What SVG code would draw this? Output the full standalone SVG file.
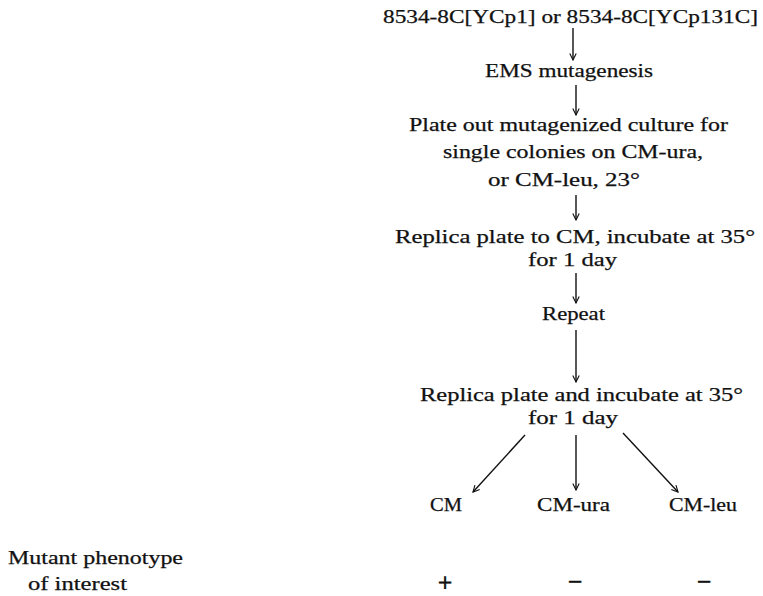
<svg xmlns="http://www.w3.org/2000/svg" width="763" height="596" viewBox="0 0 763 596">
<style>
text{font-family:"Liberation Serif","Times New Roman",serif;fill:#111;font-size:19px;stroke:#111;stroke-width:0.25}
.s{font-size:25px;stroke-width:0.8}
.con line{stroke:#111;stroke-width:1.4;fill:none}
</style>
<defs>
<marker id="ah" viewBox="0 0 10 10" refX="9" refY="5" markerWidth="8" markerHeight="8" markerUnits="userSpaceOnUse" orient="auto">
<path d="M1,1 L9,5 L1,9" fill="none" stroke="#111" stroke-width="1.4"/>
</marker>
</defs>
<rect width="763" height="596" fill="#fff"/>
<g id="n-start"><text x="383" y="23" textLength="375" lengthAdjust="spacingAndGlyphs">8534-8C[YCp1] or 8534-8C[YCp131C]</text></g>
<g id="n-ems"><text x="485" y="77" textLength="168" lengthAdjust="spacingAndGlyphs">EMS mutagenesis</text></g>
<g id="n-plate">
<text x="409" y="131" textLength="319" lengthAdjust="spacingAndGlyphs">Plate out mutagenized culture for</text>
<text x="443" y="158" textLength="260" lengthAdjust="spacingAndGlyphs">single colonies on CM-ura,</text>
<text x="488" y="186" textLength="152" lengthAdjust="spacingAndGlyphs">or CM-leu, 23°</text>
</g>
<g id="n-replica1">
<text x="395" y="243" textLength="360" lengthAdjust="spacingAndGlyphs">Replica plate to CM, incubate at 35°</text>
<text x="528" y="266" textLength="89" lengthAdjust="spacingAndGlyphs">for 1 day</text>
</g>
<g id="n-repeat"><text x="542" y="320" textLength="63" lengthAdjust="spacingAndGlyphs">Repeat</text></g>
<g id="n-replica2">
<text x="420" y="401" textLength="323" lengthAdjust="spacingAndGlyphs">Replica plate and incubate at 35°</text>
<text x="528" y="424" textLength="90" lengthAdjust="spacingAndGlyphs">for 1 day</text>
</g>
<g id="n-cm"><text x="430" y="511" textLength="32" lengthAdjust="spacingAndGlyphs">CM</text></g>
<g id="n-cmura"><text x="537" y="511" textLength="73" lengthAdjust="spacingAndGlyphs">CM-ura</text></g>
<g id="n-cmleu"><text x="669" y="511" textLength="68" lengthAdjust="spacingAndGlyphs">CM-leu</text></g>
<g id="n-phenotype">
<text x="8" y="564" textLength="175" lengthAdjust="spacingAndGlyphs">Mutant phenotype</text>
<text x="28" y="590" textLength="99" lengthAdjust="spacingAndGlyphs">of interest</text>
</g>
<g id="n-signs">
<text class="s" x="445" y="591" text-anchor="middle">+</text>
<text class="s" x="575" y="590" text-anchor="middle">−</text>
<text class="s" x="704" y="590" text-anchor="middle">−</text>
</g>
<g class="con" id="connectors">
<line x1="573" y1="28" x2="573" y2="60" marker-end="url(#ah)"/>
<line x1="576" y1="85" x2="576" y2="115" marker-end="url(#ah)"/>
<line x1="576" y1="195" x2="576" y2="220" marker-end="url(#ah)"/>
<line x1="576" y1="273" x2="576" y2="303" marker-end="url(#ah)"/>
<line x1="576" y1="330" x2="576" y2="382" marker-end="url(#ah)"/>
<line x1="525" y1="435" x2="473" y2="492" marker-end="url(#ah)"/>
<line x1="576" y1="435" x2="576" y2="490" marker-end="url(#ah)"/>
<line x1="623" y1="433" x2="678" y2="492" marker-end="url(#ah)"/>
</g>
</svg>
